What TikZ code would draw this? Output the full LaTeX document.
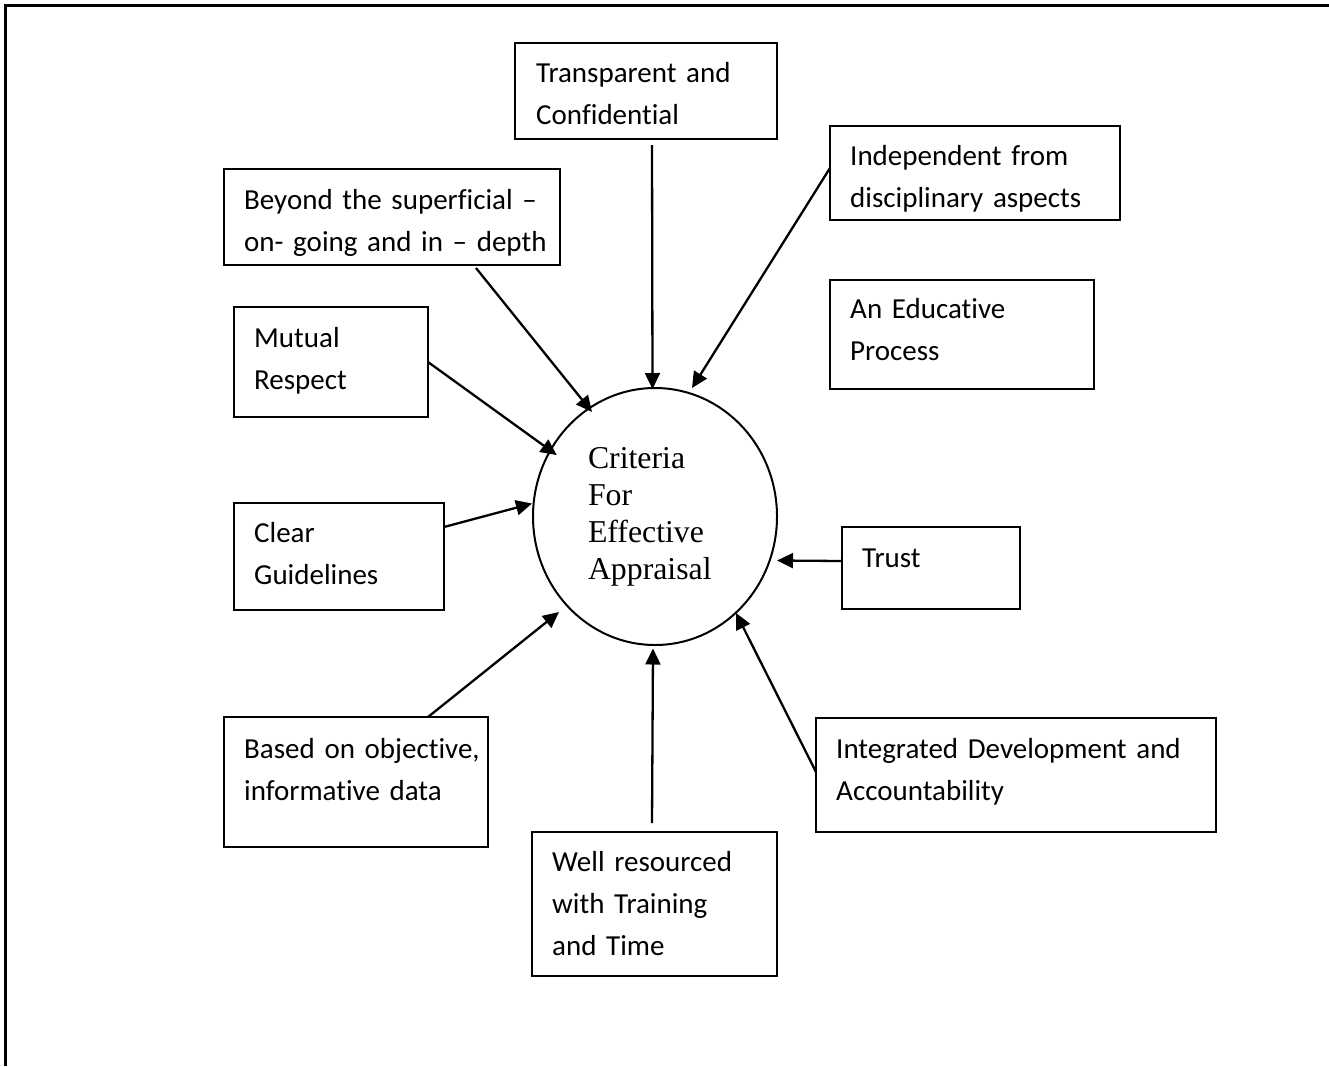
\documentclass[tikz,border=0pt]{standalone}
\usepackage{fontspec}
\setmainfont{Liberation Serif}
\newfontfamily\carlfont[Ligatures=NoCommon,RawFeature={-liga;-dlig;-calt}]{Carlito}
\usetikzlibrary{arrows.meta,shapes.geometric,calc}
\begin{document}
\begin{tikzpicture}[x=1pt,y=-1pt,
  box/.style={draw,line width=2pt,rectangle,inner sep=0pt,outer sep=0pt,anchor=north west},
  lbl/.style={anchor=base west,inner sep=0pt,text width=420pt,align=left,
    font=\carlfont\fontsize{29}{42}\selectfont},
  arr/.style={line width=2.3pt,-{Triangle[length=16pt,width=15pt]}},
  frame/.style={line width=2.2pt}]
\useasboundingbox (0,0) rectangle (1329,1066);
% outer frame (top and left edges only visible)
\coordinate (ftl) at (5.5,5.5);
\coordinate (ftr) at (1329,5.5);
\coordinate (fbl) at (5.5,1066);
\draw[frame] (fbl) -- (ftl) -- (ftr);
% central ellipse
\node[draw,line width=2pt,ellipse,minimum width=244pt,minimum height=257pt,inner sep=0pt,
  text width=134pt,align=left,font=\fontsize{31.8}{37}\selectfont] (C) at (655,516.5)
  {Criteria\\For\\Effective\\Appraisal};
% boxes
\node[box,minimum width=262pt,minimum height=96pt] (tr) at (515,43) {};
\node[box,minimum width=290pt,minimum height=94pt] (ind) at (830,126) {};
\node[box,minimum width=336pt,minimum height=96pt] (bey) at (224,169) {};
\node[box,minimum width=264pt,minimum height=109pt] (edu) at (830,280) {};
\node[box,minimum width=194pt,minimum height=110pt] (mut) at (234,307) {};
\node[box,minimum width=210pt,minimum height=107pt] (clr) at (234,503) {};
\node[box,minimum width=178pt,minimum height=82pt] (tru) at (842,527) {};
\node[box,minimum width=264pt,minimum height=130pt] (bas) at (224,717) {};
\node[box,minimum width=400pt,minimum height=114pt] (int) at (816,718) {};
\node[box,minimum width=245pt,minimum height=144pt] (wel) at (532,832) {};
% labels
\node[lbl] (trL) at ($(tr.north west)+(21,39)$) {Transparent and\\Confidential};
\node[lbl] (indL) at ($(ind.north west)+(20,39)$) {Independent from\\disciplinary aspects};
\node[lbl] (beyL) at ($(bey.north west)+(20,40)$) {Beyond the superficial –\\on- going and in – depth};
\node[lbl] (eduL) at ($(edu.north west)+(20,38)$) {An Educative\\Process};
\node[lbl] (mutL) at ($(mut.north west)+(20,40)$) {Mutual\\Respect};
\node[lbl] (clrL) at ($(clr.north west)+(20,39)$) {Clear\\Guidelines};
\node[lbl] (truL) at ($(tru.north west)+(20,40)$) {Trust};
\node[lbl] (basL) at ($(bas.north west)+(20,41)$) {Based on objective,\\informative data};
\node[lbl] (intL) at ($(int.north west)+(20,40)$) {Integrated Development and\\Accountability};
\node[lbl] (welL) at ($(wel.north west)+(20,39)$) {Well resourced\\with Training\\and Time};
% arrows
\draw[arr] ($(tr.south)+(6,6)$) -- ($(C.center)+(-2.5,-127.5)$);
\draw[arr] ($(ind.west)+(0,-5)$) -- ($(C.center)+(37,-128.5)$);
\draw[arr] ($(bey.south)+(84,3)$) -- ($(C.center)+(-63,-104.5)$);
\draw[arr] (mut.east) -- ($(C.center)+(-98.3,-61.5)$);
\draw[arr] ($(clr.east)+(0,-29.5)$) -- ($(C.center)+(-123,-13)$);
\draw[arr] ($(tru.west)+(0,-7)$) -- ($(C.center)+(122,44)$);
\draw[arr] ($(bas.north)+(72,0)$) -- ($(C.center)+(-96,95.5)$);
\draw[arr] ($(wel.north)+(-2.5,-9)$) -- ($(C.center)+(-2,132)$);
\draw[arr] ($(int.west)+(0,-3)$) -- ($(C.center)+(81,96.5)$);
\end{tikzpicture}
\end{document}
